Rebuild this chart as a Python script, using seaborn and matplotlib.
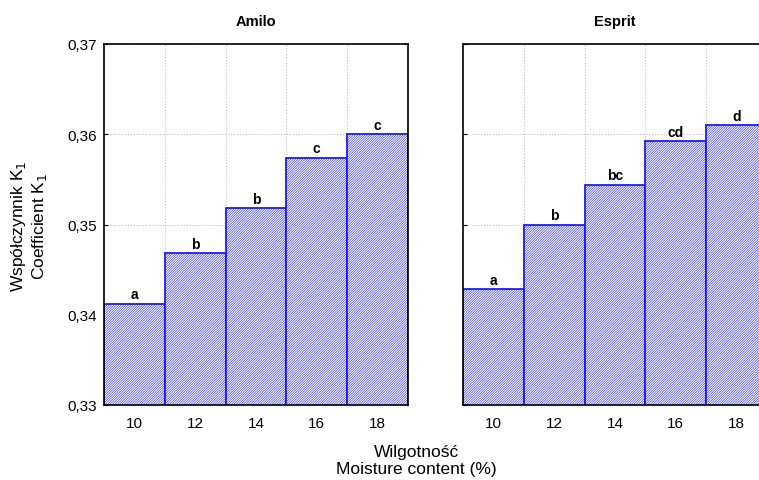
import matplotlib
matplotlib.use("Agg")
import matplotlib.pyplot as plt
import seaborn as sns
import pandas as pd
from matplotlib.ticker import FuncFormatter

# dane
moisture = [10, 12, 14, 16, 18]
amilo_k1 = [0.3412, 0.3468, 0.3518, 0.3574, 0.3600]
esprit_k1 = [0.3428, 0.3500, 0.3544, 0.3592, 0.3610]
amilo_letters = ["a", "b", "b", "c", "c"]
esprit_letters = ["a", "b", "bc", "cd", "d"]

sns.set_style("white")
plt.rcParams['font.family'] = ['Liberation Sans', 'DejaVu Sans']
plt.rcParams['text.color'] = 'black'
plt.rcParams['xtick.color'] = 'black'
plt.rcParams['ytick.color'] = 'black'
plt.rcParams['hatch.color'] = '#4d4dff'
plt.rcParams['hatch.linewidth'] = 0.4

fig = plt.figure(figsize=(7.59, 4.81), dpi=100)
W, H = 759, 481
ax1 = fig.add_axes([104 / W, 1 - 406 / H, 304 / W, 361 / H])
ax2 = fig.add_axes([463 / W, 1 - 406 / H, 304 / W, 361 / H])

panels = [(ax1, "Amilo", amilo_k1, amilo_letters),
          (ax2, "Esprit", esprit_k1, esprit_letters)]

for ax, name, vals, letters in panels:
    df = pd.DataFrame({'Moisture': moisture, 'K1': vals})
    sns.barplot(data=df, x='Moisture', y='K1', native_scale=True, width=1.0,
                color='white', edgecolor='#1a1aff', linewidth=1.3, ax=ax)
    for p in ax.patches:
        p.set_hatch('/' * 14)
        p.set_facecolor('white')
        p.set_zorder(2)
    for xv, v, lab in zip(moisture, vals, letters):
        ax.text(xv, v + 0.0003, lab, ha='center', va='bottom',
                fontsize=10, fontweight='bold')
    ax.set_xlim(9, 19)
    ax.set_ylim(0.33, 0.37)
    ax.set_xticks(moisture)
    ax.set_yticks([0.33, 0.34, 0.35, 0.36, 0.37])
    ax.set_xticks([11, 13, 15, 17], minor=True)
    ax.grid(True, which='minor', axis='x', color='#bbbbbb', linestyle=':', linewidth=0.8)
    ax.grid(True, which='major', axis='y', color='#bbbbbb', linestyle=':', linewidth=0.8)
    ax.set_axisbelow(True)
    ax.tick_params(axis='x', which='both', length=0, labelsize=11, pad=8)
    ax.tick_params(axis='y', length=3, direction='in', labelsize=11, width=0.8,
                   left=True, right=True)
    ax.set_xlabel('')
    ax.set_ylabel('')
    ax.set_title(name, fontsize=10.5, fontweight='bold', pad=14)
    for s in ax.spines.values():
        s.set_color('black')
        s.set_linewidth(1.2)
    ax.yaxis.set_major_formatter(FuncFormatter(lambda v, pos: f"{v:.2f}".replace('.', ',')))

ax1.tick_params(axis='y', pad=5)
ax2.tick_params(axis='y', labelleft=False)

fig.text(29 / W, 1 - 226 / H, 'Współczynnik K$_1$\nCoefficient K$_1$',
         rotation=90, ha='center', va='center', fontsize=12.5, linespacing=1.15)
fig.text(416 / W, 1 - 461 / H, 'Wilgotność\nMoisture content (%)',
         ha='center', va='center', fontsize=12.5, linespacing=1.15)

fig.savefig('out.png', dpi=100)
